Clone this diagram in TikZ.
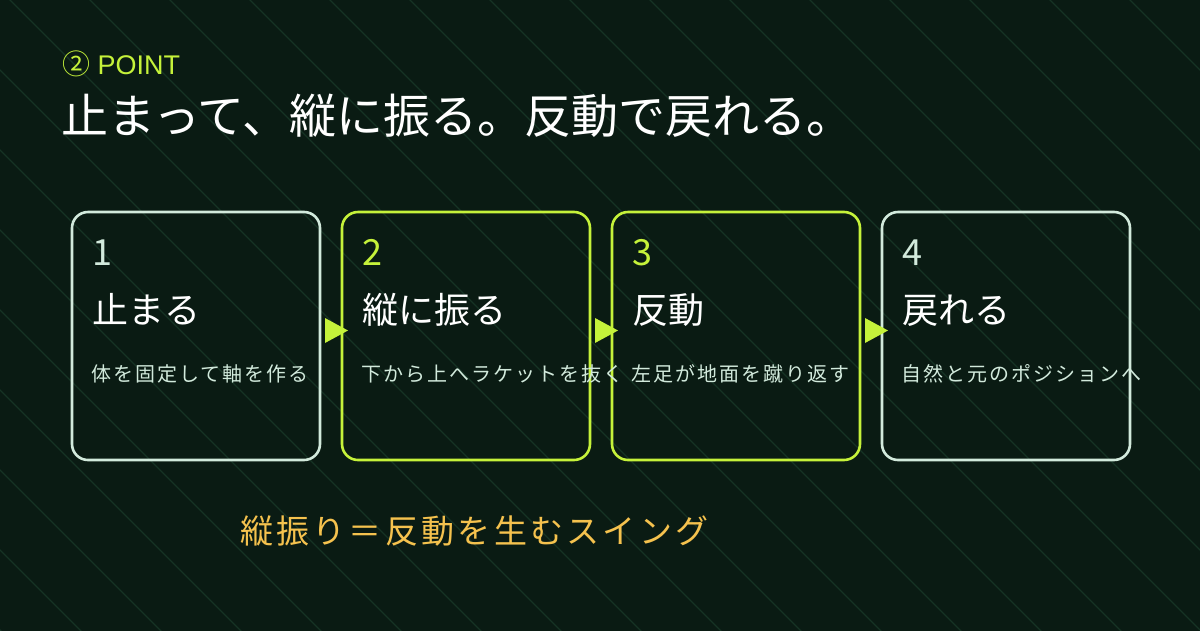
\documentclass[tikz,border=0pt]{standalone}
\usepackage{fontspec}
\newfontfamily\jp{Noto Sans CJK JP}
\newfontfamily\jpls[LetterSpace=10]{Noto Sans CJK JP}
\newfontfamily\latin{Liberation Sans}
\definecolor{bgc}{HTML}{0A1B13}
\definecolor{bgline}{HTML}{163324}
\definecolor{lime}{HTML}{C5F23A}
\definecolor{pale}{HTML}{D2EADC}
\definecolor{gold}{HTML}{F5C24E}
\tikzset{
  x=1pt, y=-1pt,
  stepbox/.style={draw, line width=2.6pt, rounded corners=16pt, minimum width=248pt, minimum height=248pt, inner sep=0pt, outer sep=0pt},
  palebox/.style={stepbox, draw=pale},
  limebox/.style={stepbox, draw=lime},
  txt/.style={inner sep=0pt, outer sep=0pt, anchor=base west},
  numtxt/.style={txt, font=\jp\fontsize{36}{40}\selectfont},
  headtxt/.style={txt, text=white, font=\jp\fontsize{36}{40}\selectfont},
  subtxt/.style={txt, text=pale, font=\jpls\fontsize{20}{24}\selectfont},
  tri/.style={fill=lime},
}
\begin{document}
\begin{tikzpicture}
\useasboundingbox (0,0) rectangle (1200,630);
\fill[bgc] (-20,-20) rectangle (1220,650);
\begin{scope}
\clip (-20,-20) rectangle (1220,650);
\foreach \c in {-710,-630,...,1210} \draw[bgline, line width=1.4pt] (\c,0) -- ++(700,700) (\c,0) -- ++(-30,-30);
\end{scope}
% header
\node[txt, text=lime] (kicker) at (62,74) {\jp\fontsize{28}{30}\selectfont ②\latin\fontsize{27}{30}\selectfont\ POINT};
\node[txt, text=white, font=\jp\fontsize{47}{52}\selectfont] (title) at (61,133) {止まって、縦に振る。反動で戻れる。};
% boxes
\node[palebox] (b1) at (196,336) {};
\node[limebox] (b2) at (466,336) {};
\node[limebox] (b3) at (736,336) {};
\node[palebox] (b4) at (1006,336) {};
% box contents
\node[numtxt, text=pale] (n1) at (92,265) {1};
\node[headtxt] (h1) at (92,323) {止まる};
\node[subtxt] (s1) at (91,381) {体を固定して軸を作る};
\node[numtxt, text=lime] (n2) at (362,265) {2};
\node[headtxt] (h2) at (362,323) {縦に振る};
\node[subtxt] (s2) at (361,381) {下から上へラケットを抜く};
\node[numtxt, text=lime] (n3) at (632,265) {3};
\node[headtxt] (h3) at (632,323) {反動};
\node[subtxt] (s3) at (631,381) {左足が地面を蹴り返す};
\node[numtxt, text=pale] (n4) at (902,265) {4};
\node[headtxt] (h4) at (902,323) {戻れる};
\node[subtxt] (s4) at (901,381) {自然と元のポジションへ};
% arrowhead connectors
\foreach \a in {b1,b2,b3}
  \fill[tri] ([shift={(5,-18)}]\a.east) -- ([shift={(5,7)}]\a.east) -- ([shift={(28,-5.5)}]\a.east) -- cycle;
% footer
\node[txt, text=gold, font=\jpls\fontsize{33}{38}\selectfont] (foot) at (240,543) {縦振り＝反動を生むスイング};
\end{tikzpicture}
\end{document}
